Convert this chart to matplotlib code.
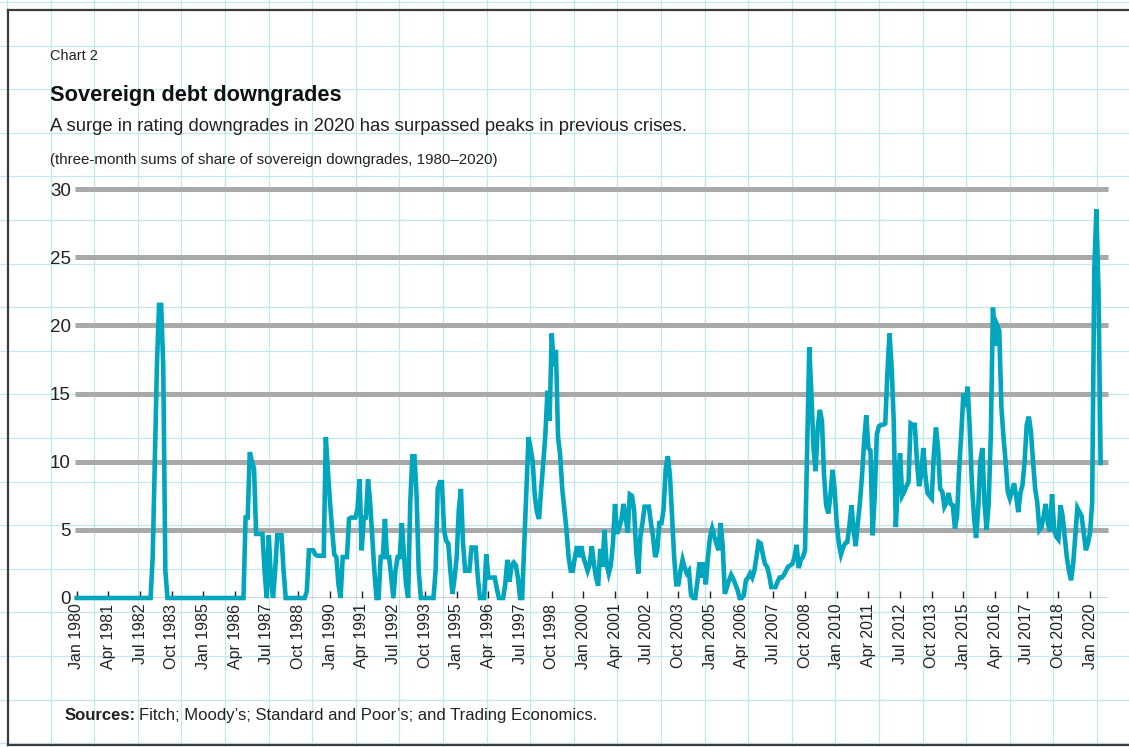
import pandas as pd
import matplotlib
matplotlib.use('Agg')
import matplotlib.pyplot as plt
from matplotlib.lines import Line2D
import numpy as np

# three-month sums of share of sovereign downgrades, monthly from Jan 1980
y1980 = [0] * 12
y1981 = [0] * 12
y1982 = [0] * 12
y1983 = [3, 10, 17, 21.5, 21.5, 17, 2, 0, 0, 0, 0, 0]
y1984 = [0] * 12
y1985 = [0] * 12
y1986 = [0, 0, 0, 0, 0, 0, 0, 0, 5.9, 5.9, 10.7, 10.0]
y1987 = [9.5, 4.7, 4.7, 4.7, 4.7, 2.0, 0, 4.6, 1.5, 0, 2.0, 4.6]
y1988 = [4.6, 4.6, 2.0, 0, 0, 0, 0, 0, 0, 0, 0, 0]
y1989 = [0, 0.5, 3.5, 3.5, 3.5, 3.2, 3.1, 3.1, 3.1, 3.1, 11.8, 9.3]
y1990 = [7.0, 5.0, 3.2, 3.0, 1.0, 0, 3.0, 3.0, 3.0, 5.8, 5.9, 5.9]
y1991 = [5.9, 6.5, 8.7, 3.5, 5.9, 5.9, 8.7, 7.0, 4.5, 2.0, 0, 0]
y1992 = [3.0, 3.0, 5.8, 3.0, 3.0, 1.5, 0, 2.0, 3.0, 3.0, 5.5, 3.2]
y1993 = [1.0, 0, 7.0, 10.4, 10.4, 7.5, 2.0, 0, 0, 0, 0, 0]
y1994 = [0, 0, 2.0, 8.0, 8.5, 8.5, 5.0, 4.2, 4.0, 2.0, 0.3, 1.5]
y1995 = [3.0, 6.5, 8.0, 4.0, 2.0, 2.0, 2.0, 3.7, 3.7, 3.7, 1.5, 0]
y1996 = [0, 0, 3.2, 1.5, 1.5, 1.5, 1.5, 0.7, 0, 0, 0, 1.0]
y1997 = [2.8, 1.2, 2.4, 2.6, 2.4, 1.5, 0, 0, 4.0, 8.0, 11.8, 11.0]
y1998 = [10.0, 7.5, 6.3, 5.8, 8.0, 9.9, 12.0, 15.2, 13.0, 19.4, 17.0, 18.2]
y1999 = [11.8, 10.5, 8.0, 6.5, 5.0, 3.0, 2.0, 2.0, 3.0, 3.8, 3.0, 3.8]
y2000 = [3.0, 2.5, 2.0, 2.5, 3.8, 2.5, 1.5, 0.9, 3.6, 2.3, 5.0, 2.5]
y2001 = [1.8, 2.4, 4.0, 6.9, 4.7, 5.2, 5.7, 6.9, 6.0, 4.8, 7.6, 7.5]
y2002 = [6.5, 3.5, 1.8, 4.5, 5.5, 6.7, 6.7, 6.7, 5.5, 4.5, 3.0, 3.5]
y2003 = [5.5, 5.5, 6.5, 9.5, 10.4, 9.0, 6.0, 3.0, 1.0, 1.0, 2.0, 2.8]
y2004 = [2.2, 1.8, 2.0, 0.2, 0, 0, 1.2, 2.6, 1.5, 2.6, 1.0, 3.0]
y2005 = [4.5, 5.1, 4.5, 4.0, 3.5, 5.5, 3.8, 0.3, 0.8, 1.3, 1.7, 1.4]
y2006 = [1.0, 0.6, 0, 0, 0.2, 1.3, 1.5, 1.8, 1.5, 2.0, 3.0, 4.1]
y2007 = [4.0, 3.2, 2.5, 2.3, 1.7, 0.8, 0.8, 0.8, 1.2, 1.5, 1.5, 1.7]
y2008 = [2.0, 2.3, 2.4, 2.5, 3.0, 3.9, 2.2, 2.8, 3.0, 3.5, 11.0, 18.4]
y2009 = [15.0, 11.0, 9.3, 12.5, 13.8, 13.0, 9.0, 6.8, 6.2, 7.5, 9.4, 8.0]
y2010 = [5.5, 4.0, 3.2, 3.7, 4.0, 4.1, 5.3, 6.8, 5.0, 3.8, 5.5, 7.0]
y2011 = [9.0, 11.5, 13.4, 11.0, 10.8, 4.6, 7.5, 12.0, 12.6, 12.7, 12.7, 12.8]
y2012 = [16.5, 19.4, 17.0, 13.0, 5.2, 8.5, 10.6, 7.5, 7.8, 8.2, 8.5, 12.8]
y2013 = [12.7, 12.7, 10.0, 8.2, 9.0, 11.0, 9.0, 7.7, 7.5, 7.3, 10.5, 12.5]
y2014 = [11.0, 8.0, 7.8, 6.7, 7.0, 7.7, 6.9, 6.8, 5.1, 6.0, 9.5, 12.0]
y2015 = [15.0, 14.0, 15.5, 12.5, 8.5, 6.0, 4.4, 6.5, 10.0, 11.0, 7.0, 5.0]
y2016 = [7.0, 12.0, 21.3, 18.5, 20.0, 19.6, 14.0, 11.8, 10.0, 7.8, 7.3, 7.8]
y2017 = [8.4, 7.5, 6.3, 7.7, 8.3, 10.0, 12.7, 13.3, 12.2, 10.0, 8.0, 7.0]
y2018 = [5.0, 5.2, 6.0, 6.9, 5.5, 4.9, 7.6, 5.0, 4.5, 4.3, 6.8, 6.0]
y2019 = [4.5, 3.0, 2.0, 1.3, 2.5, 4.5, 6.6, 6.3, 6.0, 4.8, 3.5, 4.0]
y2020 = [4.8, 7.0, 24.0, 28.5, 22.5, 9.9]

years = [y1980, y1981, y1982, y1983, y1984, y1985, y1986, y1987, y1988, y1989,
         y1990, y1991, y1992, y1993, y1994, y1995, y1996, y1997, y1998, y1999,
         y2000, y2001, y2002, y2003, y2004, y2005, y2006, y2007, y2008, y2009,
         y2010, y2011, y2012, y2013, y2014, y2015, y2016, y2017, y2018, y2019,
         y2020]
values = [v for yr in years for v in yr]
dates = pd.date_range('1980-01-01', periods=len(values), freq='MS')
yticks = [0, 5, 10, 15, 20, 25, 30]

W, H = 1129, 747
TEAL = '#00a5be'
plt.rcParams['font.family'] = ['Liberation Sans', 'DejaVu Sans']


def fx(x):
    return x / W


def fy(y):
    return 1 - y / H


fig = plt.figure(figsize=(W / 100, H / 100), dpi=100)
fig.patch.set_facecolor('white')
renderer = fig.canvas.get_renderer()

# graph-paper background
for gx in np.arange(6.9, W, 43.6):
    fig.add_artist(Line2D([fx(gx)] * 2, [0, 1], transform=fig.transFigure,
                          color='#c4e8ef', lw=0.9, zorder=0))
for gy in np.arange(2, H, 43.6):
    fig.add_artist(Line2D([0, 1], [fy(gy)] * 2, transform=fig.transFigure,
                          color='#c4e8ef', lw=0.9, zorder=0))

# frame
frame = dict(transform=fig.transFigure, color='#3c3c3c', lw=1.6, zorder=1)
fig.add_artist(Line2D([fx(8), 1], [fy(10)] * 2, **frame))
fig.add_artist(Line2D([fx(8)] * 2, [fy(10), fy(745)], **frame))
fig.add_artist(Line2D([fx(8), 1], [fy(745)] * 2, **frame))

ax = fig.add_axes([fx(75), fy(598), (1108 - 75) / W, (598 - 189) / H])
ax.patch.set_alpha(0)

x = np.arange(len(values))
ax.hlines(yticks[1:], -0.8, 488.5, colors='#a9a9a9', lw=3.6, clip_on=False, zorder=1)
ax.plot(x, values, color=TEAL, lw=3.3, solid_joinstyle='miter', clip_on=False, zorder=3)
ax.axhline(0, color='#222222', lw=1.0, zorder=2)

ax.set_xlim(-0.8, 488.5)
ax.set_ylim(0, 30)
for s in ax.spines.values():
    s.set_visible(False)

ax.set_yticks(yticks)
ax.tick_params(axis='y', length=0, pad=3, labelsize=13.5, labelcolor='#222222')

tick_pos = x[::15]
ax.set_xticks(tick_pos)
ax.set_xticklabels([d.strftime('%b %Y') for d in dates[::15]], rotation=90, fontsize=11.5)
ax.tick_params(axis='x', direction='in', length=5, width=1, color='#222222', pad=4,
               labelcolor='#222222')


def fit_text(x0, y0, s, width_px, **kw):
    # scale the font so the text spans the same width as in the reference
    t = fig.text(fx(x0), fy(y0), s, fontsize=10, **kw)
    w = t.get_window_extent(renderer=renderer).width
    t.set_fontsize(10 * width_px / w)
    return t


fit_text(50, 60, 'Chart 2', 48, color='#222222')
fit_text(50, 101, 'Sovereign debt downgrades', 293, fontweight='bold', color='#111111')
fit_text(50, 131, 'A surge in rating downgrades in 2020 has surpassed peaks in previous crises.',
         640, color='#222222')
fit_text(50, 164, '(three-month sums of share of sovereign downgrades, 1980\u20132020)',
         450, color='#222222')

# sources line: bold label followed by regular text
size = 12
src_b = fig.text(fx(65), fy(720), 'Sources:', fontsize=size, fontweight='bold', color='#222222')
src_r = fig.text(0, fy(720), "Fitch; Moody\u2019s; Standard and Poor\u2019s; and Trading Economics.",
                 fontsize=size, color='#222222')
w1 = src_b.get_window_extent(renderer=renderer).width
w2 = src_r.get_window_extent(renderer=renderer).width
size = size * (533 - 3) / (w1 + w2)
src_b.set_fontsize(size)
src_r.set_fontsize(size)
w1 = src_b.get_window_extent(renderer=renderer).width
src_r.set_x(fx(65 + w1 + 3))

fig.savefig('out.png', dpi=100)
